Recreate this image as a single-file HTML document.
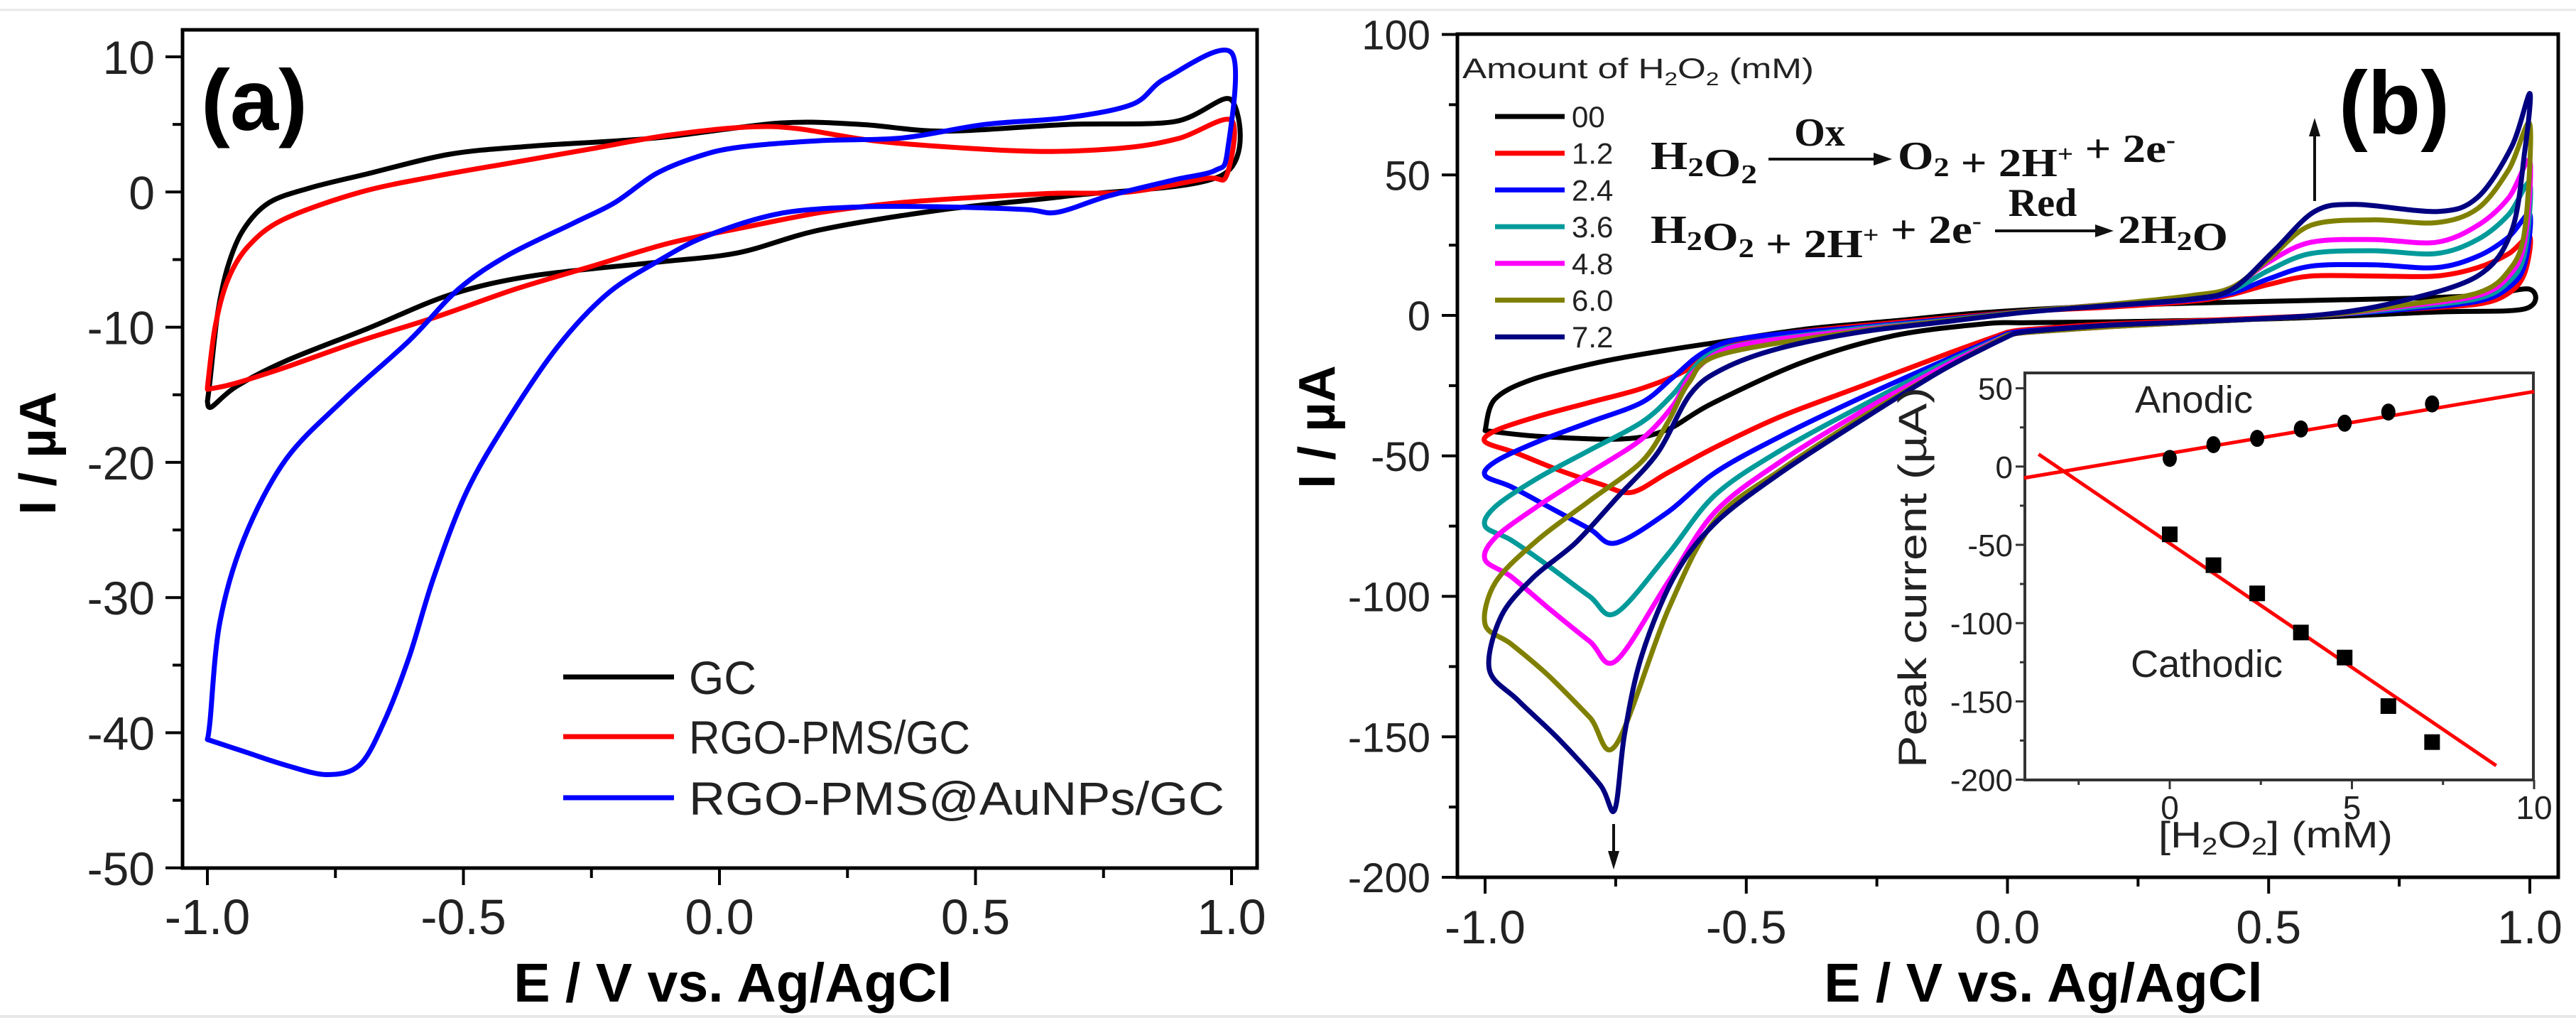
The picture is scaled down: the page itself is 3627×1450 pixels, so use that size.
<!DOCTYPE html>
<html><head><meta charset="utf-8"><style>
html,body{margin:0;padding:0;background:#fff;}
svg{display:block;}
text{font-family:"Liberation Sans",sans-serif;}
.serif{font-family:"Liberation Serif",serif;font-weight:bold;}
</style></head><body>
<svg id="fig" xmlns="http://www.w3.org/2000/svg" width="3627" height="1450" viewBox="0 0 3627 1450">
<rect x="0" y="0" width="3627" height="1450" fill="#fff"/>
<line x1="0" y1="14" x2="3627" y2="14" stroke="#e8e8e8" stroke-width="3"/>
<line x1="0" y1="1431" x2="3627" y2="1431" stroke="#e8e8e8" stroke-width="4"/>
<g id="pa"></g>
<g id="pb"></g>
<g id="pi"></g>
</svg>
<script>
// ---------- Panel (a) data ----------
const aGC_E = [-1,-0.995,-0.98,-0.96,-0.93,-0.88,-0.8,-0.687,-0.526,-0.365,-0.124,0.117,0.277,0.438,0.679,0.888,1.0,0.984,0.679,0.438,0.197,0.036,-0.124,-0.365,-0.526,-0.687,-0.847,-0.944,-0.992,-1];
const aGC_I = [-15.5,-14,-9,-5.5,-2.8,-0.8,0.3,1.35,2.8,3.4,4.0,5.1,5.0,4.5,5.0,5.2,6.8,1.3,-0.3,-1.3,-2.8,-4.5,-5.2,-6.2,-7.6,-10.1,-12.5,-14.4,-15.9,-15.5];
const aRGO_E = [-1,-0.985,-0.96,-0.92,-0.85,-0.7,-0.55,-0.4,-0.25,-0.1,0.05,0.15,0.3,0.5,0.65,0.8,0.9,1.0,0.99,0.95,0.8,0.65,0.5,0.35,0.2,0.05,-0.1,-0.25,-0.4,-0.55,-0.7,-0.85,-0.95,-1];
const aRGO_I = [-14.5,-10,-6.5,-4,-2,0,1.2,2.2,3.2,4.2,4.8,4.7,3.8,3.2,3.0,3.3,4,5.3,1.2,1,0,-0.1,-0.4,-0.8,-1.5,-2.6,-3.8,-5.5,-7.2,-9.2,-11,-13,-14.2,-14.6];
const aAu_E = [-1,-0.928,-0.847,-0.767,-0.703,-0.655,-0.606,-0.558,-0.494,-0.414,-0.317,-0.221,-0.124,-0.028,0.117,0.277,0.438,0.598,0.66,0.759,0.888,0.968,0.992,1.0,0.871,0.807,0.679,0.518,0.357,0.197,0.036,-0.044,-0.124,-0.205,-0.285,-0.414,-0.51,-0.606,-0.735,-0.847,-0.928,-0.976,-0.995,-1];
const aAu_I = [-40.5,-41.4,-42.4,-43.1,-42.4,-39.2,-34.4,-28.5,-22.2,-16.9,-11.5,-7.6,-5.2,-3.3,-1.6,-1.1,-1.1,-1.3,-1.5,-0.3,0.9,1.6,3.0,10.3,8.4,6.5,5.5,5.0,4.0,3.8,3.3,2.6,1.35,-0.8,-2.3,-4.7,-7.2,-11,-15.4,-19.8,-25.6,-31.9,-39.2,-40.5];
const aYTicks = [10,0,-10,-20,-30,-40,-50];
const aXTicks = [-1.0,-0.5,0.0,0.5,1.0];
const aLegend = ["GC","RGO-PMS/GC","RGO-PMS@AuNPs/GC"];

// ---------- Panel (b) data ----------
const bTmplE = [0,-0.12,-0.277,-0.434,-0.56,-0.65,-0.75,-0.8,-0.88,-0.95,-1,-0.98,-0.9,-0.8,-0.7,-0.64,-0.58,-0.5,-0.3,-0.12,0.04,0.2,0.35,0.43,0.5,0.58,0.7,0.82,0.9,0.96,1,0.99,0.96,0.9,0.75,0.6,0.35,0.2,0.04,0];
const b00_E = [-1,-0.982,-0.913,-0.782,-0.653,-0.566,-0.392,-0.22,-0.045,0.2,0.45,0.7,0.9,1.0,0.99,0.82,0.51,0.19,0.04,-0.045,-0.22,-0.392,-0.566,-0.653,-0.739,-0.9,-1];
const b00_I = [-41,-30,-23,-16.7,-12.4,-9.9,-5,-2,1,3.5,4.8,5.8,7,9.3,2.3,1.2,-1.2,-2.3,-2.6,-3,-7.3,-16.7,-31.4,-40.8,-44,-43,-41];
const b12_E = [0,-0.12,-0.277,-0.434,-0.56,-0.65,-0.72,-0.78,-0.86,-0.94,-1,-0.98,-0.9,-0.8,-0.7,-0.62,-0.55,-0.45,-0.3,-0.12,0.04,0.2,0.35,0.42,0.5,0.58,0.7,0.82,0.9,0.96,1,0.99,0.96,0.9,0.75,0.6,0.35,0.2,0.04,0];
const b12_I = [-6,-14,-25,-36,-47,-56,-63,-60,-55,-49,-45,-41,-36,-31,-26,-20,-11,-7,-4,-1,1.5,3,5,7,11,14,14,14,17,22,28,15,8,4,2,0,-2,-3,-5,-6];
const b24_E = bTmplE;
const b24_I = [-6.5,-16,-29,-43,-56,-70,-81,-76,-68,-61,-57,-52,-45,-38,-31,-22,-13,-8,-4.5,-1.5,1.5,3.5,5.5,8,13,17.5,18,17,21,28,36,18,10,5,2,0,-2.5,-3.5,-5.5,-6.5];
const b36_E = bTmplE;
const b36_I = [-7,-17,-32,-48,-64,-85,-106,-100,-89,-80,-75,-68,-58,-48,-38,-28,-15,-10,-5,-1.8,1.5,4,6,9,16,22,23,22,27,36,47,22,12,6,2.5,0,-2.5,-4,-6,-7];
const b48_E = [0,-0.12,-0.277,-0.434,-0.56,-0.65,-0.75,-0.8,-0.88,-0.95,-1,-0.98,-0.9,-0.8,-0.7,-0.64,-0.6,-0.52,-0.3,-0.12,0.04,0.2,0.35,0.43,0.5,0.58,0.7,0.82,0.9,0.96,1,0.99,0.96,0.9,0.75,0.6,0.35,0.2,0.04,0];
const b48_I = [-7,-18,-34,-52,-70,-95,-123,-116,-104,-93,-87,-79,-68,-56,-44,-32,-20,-11,-5.5,-2,1.5,4,6.5,10,19,26,27,26,32,42,55,26,14,7,3,0,-2.5,-4,-6,-7];
const b60_E = [0,-0.12,-0.277,-0.434,-0.56,-0.65,-0.75,-0.8,-0.88,-0.95,-1,-0.98,-0.9,-0.8,-0.7,-0.65,-0.61,-0.55,-0.3,-0.12,0.04,0.2,0.35,0.43,0.5,0.58,0.7,0.82,0.9,0.96,1,0.99,0.96,0.9,0.75,0.6,0.35,0.2,0.04,0];
const b60_I = [-7,-19,-36,-55,-73,-105,-153,-143,-128,-117,-110,-95,-80,-66,-52,-38,-24,-14,-6,-2,1.5,4,7,10,20,32,34,33,38,52,68,30,16,8,3.5,0,-2.5,-4,-6,-7];
const b72_E = [0.006,-0.12,-0.277,-0.434,-0.56,-0.638,-0.70,-0.733,-0.752,-0.78,-0.858,-0.937,-0.992,-0.969,-0.906,-0.827,-0.748,-0.67,-0.607,-0.544,-0.434,-0.277,-0.12,0.038,0.195,0.35,0.43,0.51,0.588,0.667,0.824,0.9,0.965,1,0.99,0.965,0.9,0.745,0.588,0.35,0.195,0.038,0.006];
const b72_I = [-7,-19,-37,-56,-74,-93,-121,-149,-176,-167,-151,-137,-126,-107,-93,-81,-65,-49,-28,-19,-11.6,-5.8,-2.3,1.2,3.5,5.8,9.3,23,37,39.5,37,42,60,79,58,30,14,4.7,0,-2.3,-3.5,-5.8,-7];
const bLabels = ["00","1.2","2.4","3.6","4.8","6.0","7.2"];
const bYTicks = [100,50,0,-50,-100,-150,-200];
const bXTicks = [-1.0,-0.5,0.0,0.5,1.0];

// ---------- Inset data ----------
const insConc = [0,1.2,2.4,3.6,4.8,6.0,7.2];
const insAnodic = [5.2,14,18,24,27.7,34.8,40];
const insCathodic = [-43.3,-63,-81,-106,-122,-153,-176];
const insAnFitX = [-4,10];
const insAnFitY = [-7.3,47.9];
const insCaFitX = [-3.6,8.96];
const insCaFitY = [7.9,-191];
const insYTicks = [50,0,-50,-100,-150,-200];
const insXTicks = [0,5,10];

// ---------- axis functions ----------
const ax = v => 292 + (v + 1) * 721;
const ay = i => 80 + (10 - i) * 19.03;
const bx = v => 2091 + (v + 1) * 735.5;
const by = i => 444 - i * 3.955;
const ix = c => 3055 + c * 51.3;
const iy = p => 656.8 - p * 2.204;

const NS = "http://www.w3.org/2000/svg";
function mk(tag, attrs, parent) {
  const e = document.createElementNS(NS, tag);
  for (const k in attrs) e.setAttribute(k, attrs[k]);
  parent.appendChild(e);
  return e;
}
function smooth(pts) {
  let d = "M" + pts[0][0].toFixed(1) + "," + pts[0][1].toFixed(1);
  for (let k = 0; k < pts.length - 1; k++) {
    const p0 = pts[Math.max(0, k - 1)], p1 = pts[k], p2 = pts[k + 1], p3 = pts[Math.min(pts.length - 1, k + 2)];
    const t = 0.16;
    const c1x = p1[0] + (p2[0] - p0[0]) * t, c1y = p1[1] + (p2[1] - p0[1]) * t;
    const c2x = p2[0] - (p3[0] - p1[0]) * t, c2y = p2[1] - (p3[1] - p1[1]) * t;
    d += " C" + c1x.toFixed(1) + "," + c1y.toFixed(1) + " " + c2x.toFixed(1) + "," + c2y.toFixed(1) + " " + p2[0].toFixed(1) + "," + p2[1].toFixed(1);
  }
  return d;
}
function curve(E, I, fx, fy, color, w, parent) {
  const pts = E.map((e, k) => [fx(e), fy(I[k])]);
  return mk("path", {d: smooth(pts), fill: "none", stroke: color, "stroke-width": w, "stroke-linejoin": "round", "stroke-linecap": "round"}, parent);
}
function txt(s, attrs, parent) {
  const t = mk("text", attrs, parent);
  t.textContent = s;
  return t;
}

// ================= Panel (a) =================
const pa = document.getElementById("pa");
let el;
el = mk("rect", {x: 257, y: 42, width: 1513, height: 1180, fill: "none", stroke: "#000", "stroke-width": 5}, pa);


for (let v = -50; v <= 10; v += 5) {
  const major = v % 10 === 0;
  el = mk("line", {x1: 257, x2: major ? 233 : 243, y1: ay(v), y2: ay(v), stroke: "#000", "stroke-width": 4}, pa);
  
  
}
aYTicks.forEach(v => {
  el = txt(String(v), {x: 218, y: ay(v) + 24, "text-anchor": "end", "font-size": 66, fill: "#222"}, pa);
  
  
});
for (let v = -1; v <= 1.001; v += 0.25) {
  const major = Math.abs(v * 2 - Math.round(v * 2)) < 1e-6;
  el = mk("line", {x1: ax(v), x2: ax(v), y1: 1222, y2: major ? 1246 : 1236, stroke: "#000", "stroke-width": 4}, pa);
  
  
}
aXTicks.forEach(v => {
  el = txt(v.toFixed(1), {x: ax(v), y: 1315, "text-anchor": "middle", "font-size": 70, fill: "#222"}, pa);
  
  
});
el = txt("I / µA", {x: 0, y: 0, "text-anchor": "middle", "font-size": 72, "font-weight": "bold", transform: "translate(78,638) rotate(-90)"}, pa);


el = txt("E / V vs. Ag/AgCl", {x: 1032, y: 1410, "text-anchor": "middle", "font-size": 77, "font-weight": "bold"}, pa);


el = txt("(a)", {x: 283, y: 183, "font-size": 122, "font-weight": "bold", textLength: 150, lengthAdjust: "spacingAndGlyphs"}, pa);



el = curve(aGC_E, aGC_I, ax, ay, "#000", 7, pa);


el = curve(aRGO_E, aRGO_I, ax, ay, "#ff0000", 7, pa);


el = curve(aAu_E, aAu_I, ax, ay, "#0000ff", 7, pa);



const aCols = ["#000", "#ff0000", "#0000ff"];
const aLegY = [953, 1037, 1123];
const aLegW = [95, 396, 754];
aLegend.forEach((s, k) => {
  el = mk("line", {x1: 793, x2: 949, y1: aLegY[k], y2: aLegY[k], stroke: aCols[k], "stroke-width": 7}, pa);
  
  
  el = txt(s, {x: 970, y: aLegY[k] + 24, "font-size": 66, fill: "#222", textLength: aLegW[k], lengthAdjust: "spacingAndGlyphs"}, pa);
  
  
});

// ================= Panel (b) =================
const pb = document.getElementById("pb");
el = mk("rect", {x: 2052, y: 48, width: 1550, height: 1187, fill: "none", stroke: "#000", "stroke-width": 5}, pb);


for (let v = -200; v <= 100; v += 25) {
  const major = v % 50 === 0;
  el = mk("line", {x1: 2052, x2: major ? 2030 : 2040, y1: by(v), y2: by(v), stroke: "#000", "stroke-width": 4}, pb);
  
  
}
bYTicks.forEach(v => {
  el = txt(String(v), {x: 2014, y: by(v) + 21, "text-anchor": "end", "font-size": 58, fill: "#222"}, pb);
  
  
});
for (let v = -1; v <= 1.001; v += 0.25) {
  const major = Math.abs(v * 2 - Math.round(v * 2)) < 1e-6;
  el = mk("line", {x1: bx(v), x2: bx(v), y1: 1235, y2: major ? 1258 : 1248, stroke: "#000", "stroke-width": 4}, pb);
  
  
}
bXTicks.forEach(v => {
  el = txt(v.toFixed(1), {x: bx(v), y: 1328, "text-anchor": "middle", "font-size": 66, fill: "#222"}, pb);
  
  
});
el = txt("I / µA", {x: 0, y: 0, "text-anchor": "middle", "font-size": 72, "font-weight": "bold", transform: "translate(1879,601) rotate(-90)"}, pb);


el = txt("E / V vs. Ag/AgCl", {x: 2877, y: 1410, "text-anchor": "middle", "font-size": 77, "font-weight": "bold"}, pb);


el = txt("(b)", {x: 3293, y: 188, "font-size": 125, "font-weight": "bold", textLength: 156, lengthAdjust: "spacingAndGlyphs"}, pb);



const bCols = ["#000", "#ff0000", "#0000ff", "#009a9a", "#ff00ff", "#808000", "#000080"];
const bSeries = [[b00_E, b00_I], [b12_E, b12_I], [b24_E, b24_I], [b36_E, b36_I], [b48_E, b48_I], [b60_E, b60_I], [b72_E, b72_I]];
bSeries.forEach((s, k) => {
  el = curve(s[0], s[1], bx, by, bCols[k], 7, pb);
  
  
});

// legend
el = txt("Amount of H", {x: 2059, y: 110, "font-size": 40, fill: "#222"}, pb);


el.innerHTML = 'Amount of H<tspan font-size="26" dy="10">2</tspan><tspan dy="-10">O</tspan><tspan font-size="26" dy="10">2</tspan><tspan dy="-10"> (mM)</tspan>';
el.setAttribute("textLength", 495);
el.setAttribute("lengthAdjust", "spacingAndGlyphs");
bLabels.forEach((s, k) => {
  const y = 164 + k * 51.7;
  el = mk("line", {x1: 2105, x2: 2203, y1: y, y2: y, stroke: bCols[k], "stroke-width": 7}, pb);
  
  
  el = txt(s, {x: 2213, y: y + 15, "font-size": 42, fill: "#222"}, pb);
  
  
});

// reaction equations
function arrow(x1, x2, y, parent) {
  mk("line", {x1: x1, x2: x2 - 18, y1: y, y2: y, stroke: "#111", "stroke-width": 4}, parent);
  mk("polygon", {points: (x2) + "," + y + " " + (x2 - 26) + "," + (y - 9) + " " + (x2 - 26) + "," + (y + 9), fill: "#111"}, parent);
}
const sub = (c) => '<tspan font-size="38" dy="10">' + c + '</tspan><tspan dy="-10"></tspan>';
const sup = (c) => '<tspan font-size="34" dy="-20">' + c + '</tspan><tspan dy="20"></tspan>';
el = mk("text", {x: 2324, y: 238, "font-size": 56, class: "serif", fill: "#111", textLength: 150, lengthAdjust: "spacingAndGlyphs"}, pb);


el.innerHTML = 'H' + sub('2') + 'O' + sub('2');
arrow(2490, 2664, 224, pb);
el = txt("Ox", {x: 2562, y: 205, "text-anchor": "middle", "font-size": 56, class: "serif", fill: "#111"}, pb);


el = mk("text", {x: 2672, y: 238, "font-size": 56, class: "serif", fill: "#111", textLength: 391, lengthAdjust: "spacingAndGlyphs"}, pb);


el.innerHTML = 'O' + sub('2') + ' + 2H' + sup('+') + ' + 2e' + sup('-');
el = mk("text", {x: 2324, y: 342, "font-size": 56, class: "serif", fill: "#111", textLength: 466, lengthAdjust: "spacingAndGlyphs"}, pb);


el.innerHTML = 'H' + sub('2') + 'O' + sub('2') + ' + 2H' + sup('+') + ' + 2e' + sup('-');
arrow(2809, 2976, 325, pb);
el = txt("Red", {x: 2876, y: 304, "text-anchor": "middle", "font-size": 56, class: "serif", fill: "#111"}, pb);


el = mk("text", {x: 2982, y: 342, "font-size": 56, class: "serif", fill: "#111", textLength: 155, lengthAdjust: "spacingAndGlyphs"}, pb);


el.innerHTML = '2H' + sub('2') + 'O';

// trend arrows
el = mk("g", {}, pb);


mk("line", {x1: 3259, x2: 3259, y1: 283, y2: 185, stroke: "#111", "stroke-width": 4}, el);
mk("polygon", {points: "3259,166 3251,192 3267,192", fill: "#111"}, el);
el = mk("g", {}, pb);


mk("line", {x1: 2272, x2: 2272, y1: 1160, y2: 1205, stroke: "#111", "stroke-width": 4}, el);
mk("polygon", {points: "2272,1224 2264,1198 2280,1198", fill: "#111"}, el);

// ================= Inset =================
const pi = document.getElementById("pi");
el = mk("rect", {x: 2851, y: 525, width: 716, height: 573, fill: "#fff", stroke: "#333", "stroke-width": 4}, pi);


for (let v = -200; v <= 50; v += 25) {
  const major = v % 50 === 0;
  el = mk("line", {x1: 2851, x2: major ? 2838 : 2844, y1: iy(v), y2: iy(v), stroke: "#333", "stroke-width": 3}, pi);
  
  
}
insYTicks.forEach(v => {
  el = txt(String(v), {x: 2834, y: iy(v) + 16, "text-anchor": "end", "font-size": 44, fill: "#222"}, pi);
  
  
});
for (let c = -2.5; c <= 10; c += 2.5) {
  const major = c % 5 === 0;
  el = mk("line", {x1: ix(c), x2: ix(c), y1: 1098, y2: major ? 1111 : 1105, stroke: "#333", "stroke-width": 3}, pi);
  
  
}
insXTicks.forEach(c => {
  el = txt(String(c), {x: ix(c), y: 1153, "text-anchor": "middle", "font-size": 46, fill: "#222"}, pi);
  
  
});
el = txt("Peak current (µA)", {x: 0, y: 0, "text-anchor": "middle", "font-size": 56, fill: "#222", textLength: 536, lengthAdjust: "spacingAndGlyphs", transform: "translate(2712,813) rotate(-90)"}, pi);


el = mk("text", {x: 3039, y: 1193, "font-size": 52, fill: "#222", textLength: 330, lengthAdjust: "spacingAndGlyphs"}, pi);


el.innerHTML = '[H<tspan font-size="34" dy="10">2</tspan><tspan dy="-10">O</tspan><tspan font-size="34" dy="10">2</tspan><tspan dy="-10">] (mM)</tspan>';
el = txt("Anodic", {x: 3006, y: 581, "font-size": 54, fill: "#222", textLength: 166, lengthAdjust: "spacingAndGlyphs"}, pi);


el = txt("Cathodic", {x: 3000, y: 953, "font-size": 54, fill: "#222", textLength: 214, lengthAdjust: "spacingAndGlyphs"}, pi);



el = mk("line", {x1: ix(insAnFitX[0]), y1: iy(insAnFitY[0]), x2: ix(insAnFitX[1]), y2: iy(insAnFitY[1]), stroke: "#ff0000", "stroke-width": 5}, pi);


el = mk("line", {x1: ix(insCaFitX[0]), y1: iy(insCaFitY[0]), x2: ix(insCaFitX[1]), y2: iy(insCaFitY[1]), stroke: "#ff0000", "stroke-width": 5}, pi);


insConc.forEach((c, k) => {
  el = mk("ellipse", {cx: ix(c), cy: iy(insAnodic[k]), rx: 10, ry: 12, fill: "#000"}, pi);
  
  
  el = mk("rect", {x: ix(c) - 11, y: iy(insCathodic[k]) - 11, width: 22, height: 22, fill: "#000"}, pi);
  
  
});
</script>
</body></html>
